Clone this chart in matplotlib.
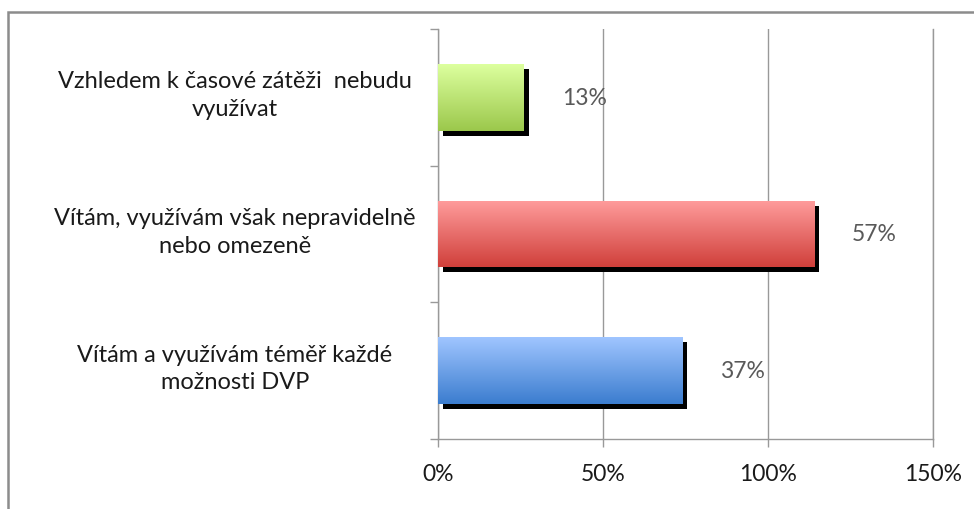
import matplotlib
matplotlib.use("Agg")
import matplotlib.pyplot as plt
import matplotlib.patheffects as pe
from matplotlib.patches import Rectangle
import numpy as np

plt.rcParams['font.family'] = ['Lato', 'DejaVu Sans']

categories = ["Vítám a využívám téměř každé\nmožnosti DVP",
              "Vítám, využívám však nepravidelně\nnebo omezeně",
              "Vzhledem k časové zátěži  nebudu\nvyužívat"]
bar_values = [74, 114, 26]
value_labels = ["37%", "57%", "13%"]
x_ticks = [0, 50, 100, 150]
x_tick_labels = ["0%", "50%", "100%", "150%"]
grad_top = ["#9fc5ff", "#ff9c9c", "#dcff9e"]
grad_bottom = ["#3c7dcf", "#d0403b", "#9cc84c"]

fig = plt.figure(figsize=(9.74, 5.10), dpi=100)
ax = fig.add_axes([438 / 974, 1 - 440 / 510, (933 - 438) / 974, 410 / 510])

# outer chart border (runs off the right and bottom edges)
fig.patches.append(Rectangle((8 / 974, -0.1), 1.2, 1 - 13 / 510 + 0.1,
                             transform=fig.transFigure, fill=False,
                             edgecolor="#8c8c8c", linewidth=1.8, zorder=0))

ypos = np.arange(len(categories))
h = 0.49
bars = ax.barh(ypos, bar_values, height=h, color="white", zorder=3,
               path_effects=[pe.SimplePatchShadow(offset=(3.6, -3.6),
                                                  shadow_rgbFace="black",
                                                  alpha=1.0),
                             pe.Normal()])
for i, b in enumerate(bars):
    c1 = np.array(matplotlib.colors.to_rgb(grad_top[i]))
    c2 = np.array(matplotlib.colors.to_rgb(grad_bottom[i]))
    t = np.linspace(0, 1, 64)[:, None]
    img = (c1 * (1 - t) + c2 * t)[:, None, :]
    im = ax.imshow(img, extent=[0, bar_values[i], ypos[i] - h / 2, ypos[i] + h / 2],
                   origin="upper", aspect="auto", zorder=4, interpolation="bilinear")
    im.set_clip_path(b)
    ax.text(bar_values[i] + 11.5, ypos[i], value_labels[i], va="center", ha="left",
            fontsize=16.5, color="#595959", zorder=5)
    ax.text(-0.41, ypos[i] + 0.02, categories[i], transform=ax.get_yaxis_transform(),
            ha="center", va="center", multialignment="center", fontsize=17,
            color="#1a1a1a", linespacing=1.4)

ax.set_xlim(0, 150)
ax.set_ylim(-0.5, 2.5)
ax.set_xticks(x_ticks)
ax.set_xticklabels(x_tick_labels, fontsize=16.5, color="#1a1a1a")
ax.set_yticks([-0.5, 0.5, 1.5, 2.5])
ax.set_yticklabels([])
ax.tick_params(axis="y", length=5.5, color="#999999", width=1)
ax.tick_params(axis="x", length=5.5, color="#999999", width=1, pad=12)
ax.grid(axis="x", color="#999999", linewidth=1, zorder=0)
ax.set_axisbelow(True)
ax.spines["top"].set_visible(False)
for s in ["left", "bottom", "right"]:
    ax.spines[s].set_color("#999999")
    ax.spines[s].set_linewidth(1)

fig.savefig("out.png", dpi=100)
